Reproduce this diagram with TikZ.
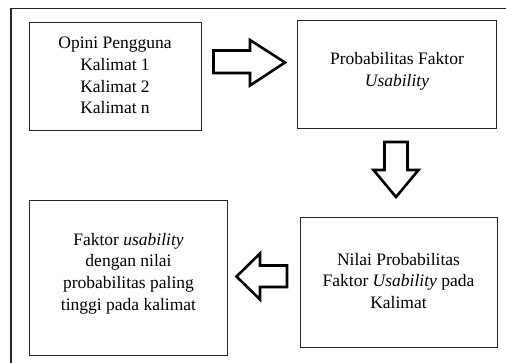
\documentclass[tikz,border=0pt]{standalone}
\usepackage{fontspec}
\setmainfont{Liberation Serif}
\begin{document}
\begin{tikzpicture}[x=1pt,y=-1pt,
  box/.style={draw=black!85, line width=1pt, rectangle, inner sep=0pt},
  txt/.style={align=center, inner sep=0pt, font=\fontsize{17.5}{21.7}\selectfont},
  blockarrow/.style={draw=black, line width=2.6pt, line join=miter, fill=white}]
\useasboundingbox (0,0) rectangle (506,363);
\clip (0,0) rectangle (506,363);
% outer frame (cut off at right and bottom)
\draw[line width=1.2pt, black!85] (11,380) -- (11,8.3) -- (530,8.3);
% boxes
\node[box, minimum width=172pt, minimum height=108.3pt] (b1) at (115,76.85) {};
\node[box, minimum width=198.3pt, minimum height=108.3pt] (b2) at (396.85,74.85) {};
\node[box, minimum width=198.7pt, minimum height=154.7pt] (b3) at (128.35,278.35) {};
\node[box, minimum width=197pt, minimum height=130.4pt] (b4) at (398.5,282.5) {};
% texts
\node[txt] (t1) at (115,75.5) {Opini Pengguna\\Kalimat 1\\Kalimat 2\\Kalimat n};
\node[txt] (t2) at (397,71.5) {Probabilitas Faktor\\\textit{Usability}};
\node[txt] (t3) at (128.5,273.5) {Faktor \textit{usability}\\dengan nilai\\probabilitas paling\\tinggi pada kalimat};
\node[txt] (t4) at (398.5,281) {Nilai Probabilitas\\Faktor \textit{Usability} pada\\Kalimat};
% block arrows
\draw[blockarrow] (213.5,50.5) -- (250,50.5) -- (250,40) -- (285,62.5) -- (250,85.5) -- (250,73) -- (213.5,73) -- cycle;
\draw[blockarrow] (384.5,142) -- (407.5,142) -- (407.5,170) -- (418.5,170) -- (396,197) -- (373.5,170) -- (384.5,170) -- cycle;
\draw[blockarrow] (287,265.5) -- (260,265.5) -- (260,253.5) -- (236.5,276.5) -- (260,299.5) -- (260,287) -- (287,287) -- cycle;
\end{tikzpicture}
\end{document}
